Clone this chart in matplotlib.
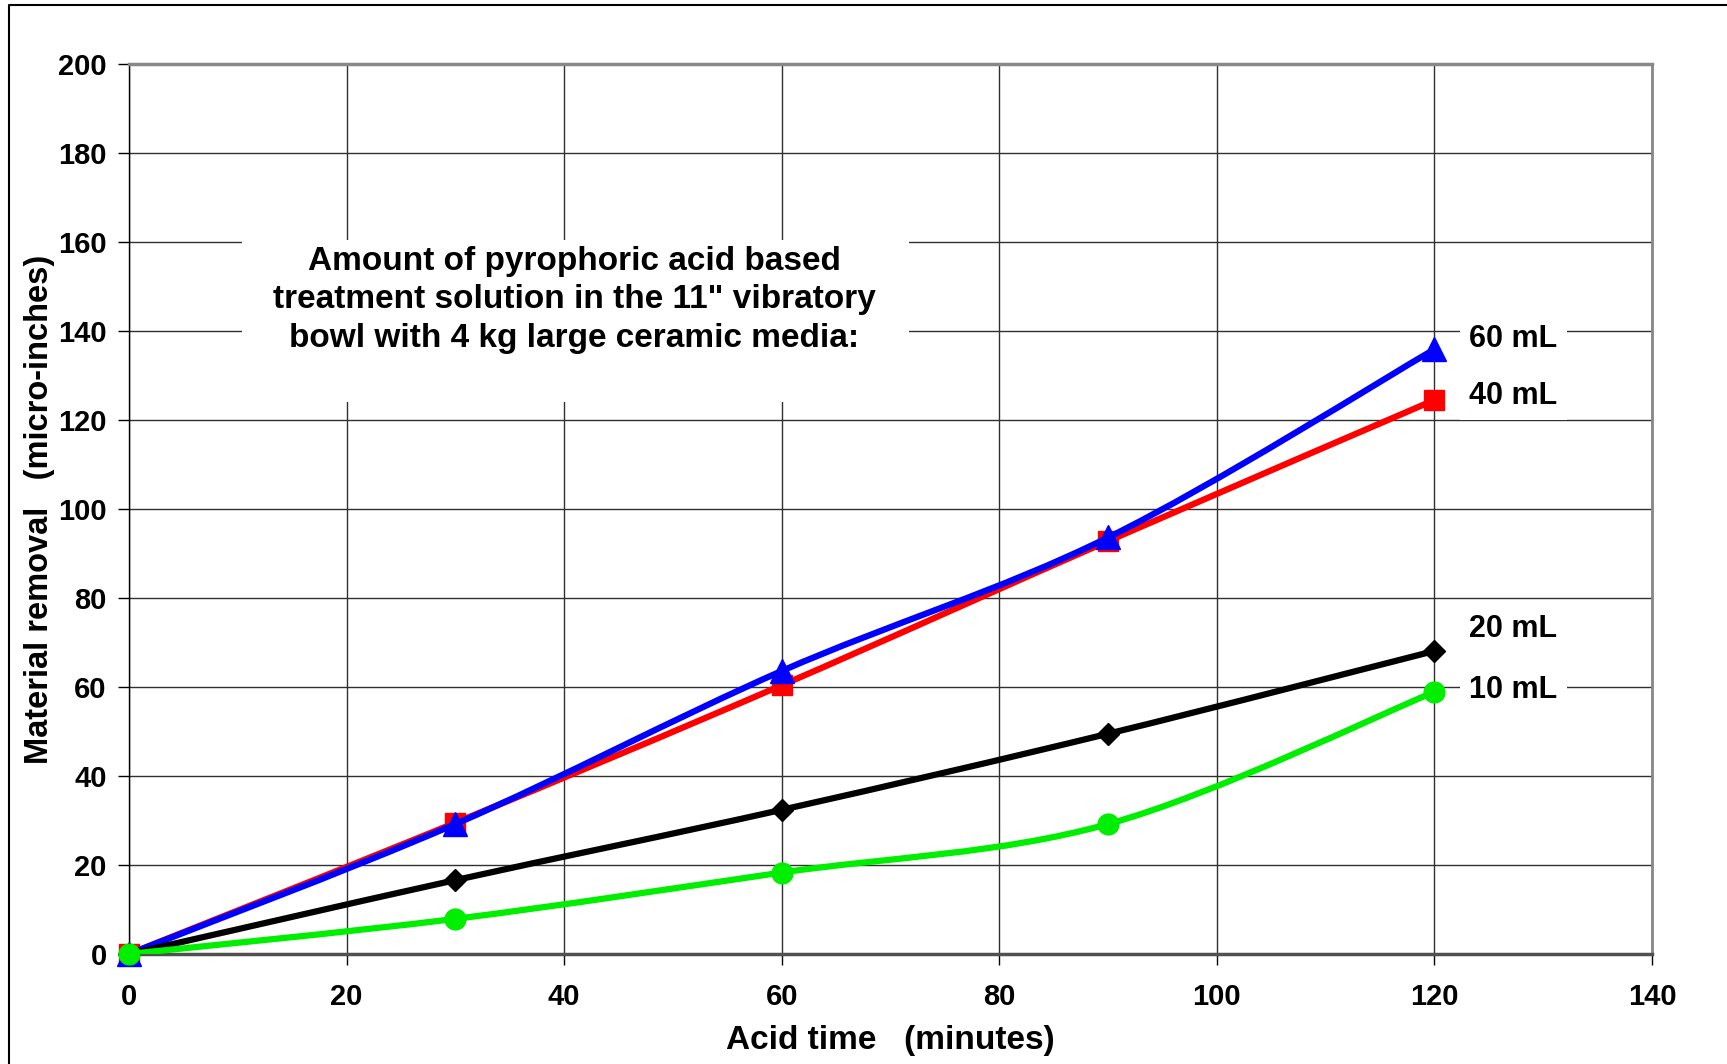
import numpy as np
import matplotlib
matplotlib.use('Agg')
import matplotlib.pyplot as plt
from matplotlib.path import Path
from matplotlib.patches import PathPatch, Rectangle
from matplotlib.lines import Line2D

plt.rcParams['font.family'] = ['Liberation Sans', 'DejaVu Sans']
plt.rcParams['font.weight'] = 'bold'

# data
acid_time = [0, 30, 60, 90, 120]
removal_10ml = [0, 7.9, 18.3, 29.2, 58.9]
removal_20ml = [0, 16.6, 32.4, 49.5, 68.1]
removal_40ml = [0, 29.5, 60.4, 92.8, 124.5]
removal_60ml = [0, 29.2, 63.6, 93.6, 135.9]

series_labels = ['10 mL', '20 mL', '40 mL', '60 mL']
label_y = [59.4, 73.0, 125.5, 138.1]

note = ('Amount of pyrophoric acid based\n'
        'treatment solution in the 11" vibratory\n'
        'bowl with 4 kg large ceramic media:')


def smooth_path(x, y):
    # excel-style smoothed line: cubic bezier through the points
    pts = np.column_stack([x, y]).astype(float)
    n = len(pts)
    verts = [pts[0]]
    codes = [Path.MOVETO]
    for i in range(n - 1):
        p_prev = pts[i - 1] if i > 0 else pts[i]
        p_next2 = pts[i + 2] if i + 2 < n else pts[i + 1]
        c1 = pts[i] + (pts[i + 1] - p_prev) / 6
        c2 = pts[i + 1] - (p_next2 - pts[i]) / 6
        verts += [c1, c2, pts[i + 1]]
        codes += [Path.CURVE4] * 3
    return Path(verts, codes)


fig = plt.figure(figsize=(17.27, 10.64), dpi=100)
ax = fig.add_axes([0.0747, 0.1034, 0.8819, 0.8364])

series = [
    (removal_40ml, '#ff0000', 's', 15),
    (removal_60ml, '#0000ff', '^', 17),
    (removal_20ml, '#000000', 'D', 11),
    (removal_10ml, '#00ee00', 'o', 15),
]
z = 3
for vals, col, mk, ms in series:
    ax.add_patch(PathPatch(smooth_path(acid_time, vals), fill=False,
                           edgecolor=col, lw=4.5, zorder=z, capstyle='round'))
    ax.plot(acid_time, vals, linestyle='none', marker=mk, color=col,
            markersize=ms, zorder=z + 0.5, clip_on=False)
    z += 1

ax.set_xlim(0, 140)
ax.set_ylim(0, 200)
ax.set_xticks(range(0, 141, 20))
ax.set_yticks(range(0, 201, 20))
ax.grid(True, color='#303030', lw=1)
ax.set_axisbelow(True)
ax.tick_params(axis='x', direction='out', length=8, width=1, pad=13, labelsize=21)
ax.tick_params(axis='y', direction='out', length=8, width=1, pad=8, labelsize=21)
for lab in ax.get_xticklabels() + ax.get_yticklabels():
    lab.set_fontweight('bold')

ax.spines['left'].set_color('black')
ax.spines['left'].set_linewidth(1)
ax.spines['bottom'].set_color('#505050')
ax.spines['bottom'].set_linewidth(2.5)
ax.spines['top'].set_color('#888888')
ax.spines['top'].set_linewidth(2.5)
ax.spines['right'].set_color('#888888')
ax.spines['right'].set_linewidth(2)

ax.set_xlabel('Acid time   (minutes)', fontsize=24, fontweight='bold', labelpad=10)
ax.set_ylabel('Material removal   (micro-inches)', fontsize=23.5, fontweight='bold', labelpad=2)

# white area behind the note
ax.add_patch(Rectangle((10.4, 124.0), 61.3, 36.4, facecolor='white',
                       edgecolor='none', zorder=2))
ax.text(40.9, 147.0, note, ha='center', va='center', fontsize=24,
        fontweight='bold', linespacing=1.32, zorder=10)

for lab, yv in zip(series_labels, label_y):
    ax.text(123.2, yv, lab, ha='left', va='center', fontsize=22,
            fontweight='bold', zorder=10,
            bbox=dict(boxstyle='square,pad=0.3', facecolor='white', edgecolor='none'))

# outer frame of the figure
fig.add_artist(Line2D([9 / 1727, 9 / 1727, 1], [0, 1 - 5 / 1064, 1 - 5 / 1064],
                      transform=fig.transFigure, color='black', lw=1.5))

fig.savefig('out.png', dpi=100)
